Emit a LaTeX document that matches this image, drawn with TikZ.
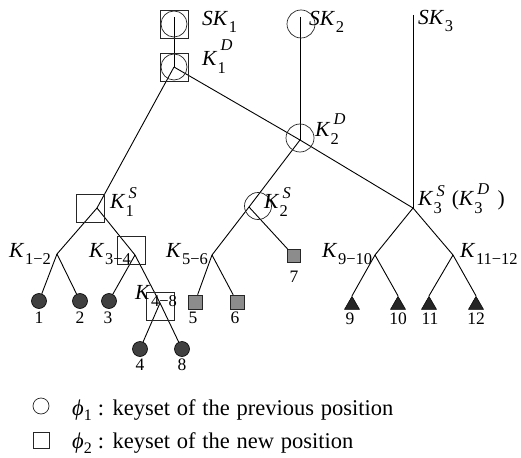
\documentclass[tikz,border=0pt]{standalone}
\usepackage{fontspec}
\setmainfont{Liberation Serif}
\usetikzlibrary{shapes.geometric}

% label fonts: key letters and their indices
\newcommand\kfnt{\fontsize{21.5}{24}\selectfont}
\newcommand\sfnt{\fontsize{16.5}{18}\selectfont}
% key with subscript #2 and superscript #3 raised by #4
\newcommand\kss[4]{{\kfnt\itshape #1}\rlap{\kern4pt\raisebox{#4}{\sfnt\itshape #3}}\kern1pt\raisebox{-8pt}{\sfnt #2}}
% key with subscript only
\newcommand\ksb[2]{{\kfnt\itshape #1}\kern1.5pt\raisebox{-7pt}{\sfnt #2}}
\newcommand\widewords{\spaceskip=0.3em plus 0.1em\relax}

\begin{document}
\begin{tikzpicture}[x=1pt,y=-1pt,
  conn/.style={line width=0.9pt},
  mkcirc/.style={circle, draw=black!85, line width=0.7pt, minimum size=#1, inner sep=0pt},
  mkbox/.style={rectangle, draw=black!85, line width=0.7pt, minimum size=#1, inner sep=0pt},
  leafc/.style={circle, fill=black!75, draw=black, line width=0.6pt, minimum size=15pt, inner sep=0pt},
  leafs/.style={rectangle, fill=black!45, draw=black!85, line width=0.6pt, minimum size=14pt, inner sep=0pt},
  leaft/.style={regular polygon, regular polygon sides=3, fill=black!85, draw=black, line width=0.5pt, minimum size=17.3pt, inner sep=0pt},
  lab/.style={anchor=base west, inner sep=0pt},
  num/.style={anchor=base, inner sep=0pt, font=\fontsize{17.5}{20}\selectfont},
  legend/.style={anchor=base west, inner sep=0pt, font=\fontsize{22.5}{26}\selectfont}
]
\useasboundingbox (0,0) rectangle (521,457);

% junction points of the key tree
\coordinate (sk1) at (174,17);
\coordinate (k1d) at (174,67);
\coordinate (sk2) at (300,17);
\coordinate (k2d) at (300,140);
\coordinate (sk3) at (413,15);
\coordinate (k3s) at (413,208);
\coordinate (k1s) at (97,208);
\coordinate (k12) at (57,254);
\coordinate (k34) at (135,255);
\coordinate (k48) at (160,303);
\coordinate (k2s) at (249,207);
\coordinate (k56) at (212,255);
\coordinate (k910) at (375,255);
\coordinate (k1112) at (453,255);

% leaves
\node[leafc] (l1) at (39,301) {};
\node[leafc] (l2) at (80,301) {};
\node[leafc] (l3) at (109,301) {};
\node[leafc] (l4) at (140,349) {};
\node[leafc] (l8) at (182,349) {};
\node[leafs] (l5) at (195,302) {};
\node[leafs] (l6) at (237,302) {};
\node[leafs,minimum size=13pt] (l7) at (294,256) {};
\node[leaft] (l9) at (352,305) {};
\node[leaft] (l10) at (398,305) {};
\node[leaft] (l11) at (429,305) {};
\node[leaft] (l12) at (476,305) {};

% edges
\draw[conn] (sk1) -- (k1d);
\draw[conn] (sk2) -- (k2d);
\draw[conn] (sk3) -- (k3s);
\draw[conn] (k1d) -- (k2d) -- (k3s);
\draw[conn] (k1d) -- (k1s);
\draw[conn] (k1s) -- (k12);
\draw[conn] (k1s) -- (k34);
\draw[conn] (k12) -- (l1);
\draw[conn] (k12) -- (l2);
\draw[conn] (k34) -- (l3);
\draw[conn] (k34) -- (k48);
\draw[conn] (k48) -- (l4);
\draw[conn] (k48) -- (l8);
\draw[conn] (k2d) -- (k2s);
\draw[conn] (k2s) -- (k56);
\draw[conn] (k2s) -- (l7);
\draw[conn] (k56) -- (l5);
\draw[conn] (k56) -- (l6);
\draw[conn] (k3s) -- (k910);
\draw[conn] (k3s) -- (k1112);
\draw[conn] (k910) -- (l9.corner 1);
\draw[conn] (k910) -- (l10.corner 1);
\draw[conn] (k1112) -- (l11.corner 1);
\draw[conn] (k1112) -- (l12.corner 1);

% keyset markers
\node[mkbox=28pt] (sk1b) at (174,24) {};
\node[mkcirc=26pt] (sk1c) at (174,24) {};
\node[mkbox=28pt] (k1db) at (174,67) {};
\node[mkcirc=26pt] (k1dc) at (174,67) {};
\node[mkcirc=28pt] (sk2c) at (301,24) {};
\node[mkcirc=28pt] (k2dc) at (300,138) {};
\node[mkbox=28pt] (k1sb) at (90,208) {};
\node[mkbox=28pt] (k34b) at (131,250) {};
\node[mkbox=28pt] (k48b) at (160,306) {};
\node[mkcirc=27pt] (k2sc) at (258,206) {};

% key labels
\node[lab] (tsk1) at (202,26) {\ksb{SK}{1}};
\node[lab] (tk1d) at (202,66) {\kss{K}{1}{D}{15pt}};
\node[lab] (tsk2) at (309,26) {\ksb{SK}{2}};
\node[lab] (tsk3) at (418,25) {\ksb{SK}{3}};
\node[lab] (tk2d) at (315,137) {\kss{K}{2}{D}{13pt}};
\node[lab] (tk3s) at (418,205) {\kss{K}{3}{S}{9pt}\kern10pt{\kfnt(}\kss{K}{3}{D}{11pt}\kern15pt{\kfnt)}};
\node[lab] (tk1s) at (110,208) {\kss{K}{1}{S}{10pt}};
\node[lab] (tk2s) at (264,208) {\kss{K}{2}{S}{10pt}};
\node[lab] (tk12) at (9,257) {\ksb{K}{1−2}};
\node[lab] (tk34) at (89,257) {\ksb{K}{3−4}};
\node[lab] (tk48) at (135,299) {\ksb{K}{4−8}};
\node[lab] (tk56) at (166,257) {\ksb{K}{5−6}};
\node[lab] (tk910) at (322,257) {\ksb{K}{9−10}};
\node[lab] (tk1112) at (460,257) {\ksb{K}{11−12}};

% leaf numbers
\node[num] (n1) at (39,323) {1};
\node[num] (n2) at (80,323) {2};
\node[num] (n3) at (108,323) {3};
\node[num] (n4) at (140,370) {4};
\node[num] (n8) at (182,370) {8};
\node[num] (n5) at (193,323) {5};
\node[num] (n6) at (235,323) {6};
\node[num] (n7) at (294,282) {7};
\node[num] (n9) at (350,324) {9};
\node[num] (n10) at (398,324) {10};
\node[num] (n11) at (430,324) {11};
\node[num] (n12) at (476,324) {12};

% legend
\node[mkcirc=16pt] (lgc) at (41,406) {};
\node[mkbox=16pt] (lgb) at (41,440) {};
\node[legend] (lgt1) at (72,415) {\widewords\textit{ϕ}\raisebox{-5pt}{\fontsize{16}{18}\selectfont 1}\kern6pt: keyset of the previous position};
\node[legend] (lgt2) at (72,448) {\widewords\textit{ϕ}\raisebox{-5pt}{\fontsize{16}{18}\selectfont 2}\kern6pt: keyset of the new position};
\end{tikzpicture}
\end{document}
